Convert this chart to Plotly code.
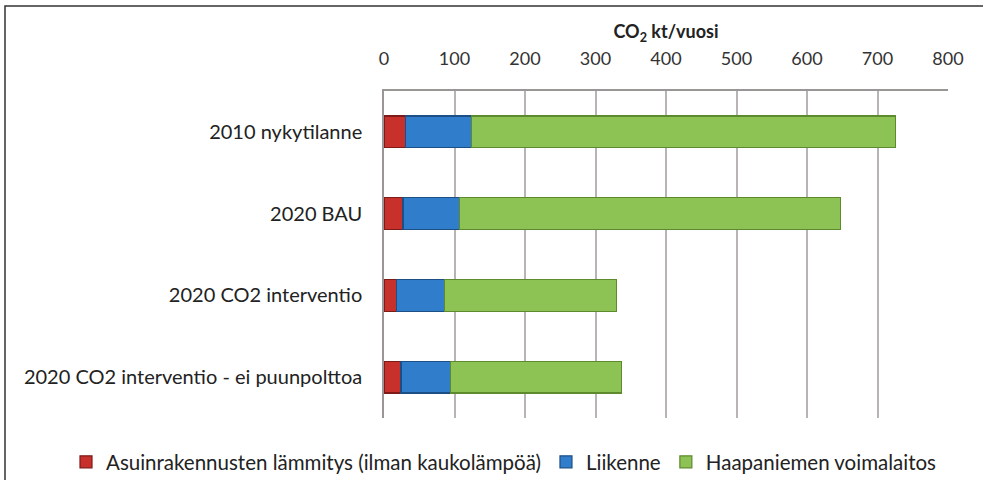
import plotly.graph_objects as go

FONT = "Lato"

scenarios = [
    "2010 nykytilanne",
    "2020 BAU",
    "2020 CO2 interventio",
    "2020 CO2 interventio - ei puunpolttoa",
]
asuin = [30, 27, 18, 24]
liikenne = [94, 80, 68, 70]
voimalaitos = [601, 541, 244, 243]

x_ticks = [0, 100, 200, 300, 400, 500, 600, 700, 800]

series = [
    ("Asuinrakennusten lämmitys (ilman kaukolämpöä)", asuin, "#C8302C", "#7E1A18"),
    ("Liikenne", liikenne, "#2F7DCB", "#1C4F85"),
    ("Haapaniemen voimalaitos", voimalaitos, "#8DC255", "#5C8A2C"),
]

# plot area in pixels: x 384..948, y 91..418
PW, PH = 564, 327

fig = go.Figure()
for name, vals, col, edge in series:
    fig.add_trace(go.Bar(
        y=scenarios, x=vals, name=name, orientation="h",
        marker=dict(color=col, line=dict(color=edge, width=1.2)),
        width=0.39,
    ))

fig.update_layout(
    barmode="stack",
    width=983, height=480,
    margin=dict(l=384, r=35, t=91, b=62, autoexpand=False),
    paper_bgcolor="white", plot_bgcolor="white",
    font=dict(family=FONT, size=20, color="#222222"),
    showlegend=True,
    legend=dict(orientation="h",
                x=(66 - 384) / PW, xanchor="left",
                y=-(462 - 418) / PH, yanchor="middle",
                font=dict(size=20.5, family=FONT, color="#222222"),
                traceorder="normal", itemwidth=30, tracegroupgap=0),
    shapes=[dict(type="rect", xref="paper", yref="paper",
                 x0=(5 - 384) / PW, x1=(995 - 384) / PW,
                 y0=-(495 - 418) / PH, y1=1 + (91 - 6) / PH,
                 line=dict(color="#333333", width=1.5), layer="below")],
)
fig.update_xaxes(
    side="top", range=[0, 800], tickvals=x_ticks, automargin=False,
    showgrid=True, gridcolor="#B8B4B4", gridwidth=1.5,
    showline=True, linecolor="#9A9696", linewidth=1.5,
    tickfont=dict(size=18, family=FONT, color="#333333"),
    ticks="", ticklabelstandoff=17,
    title=dict(text="<b>CO<sub>2</sub> kt/vuosi</b>", font=dict(size=18, family=FONT, color="#222222"),
               standoff=4),
    zeroline=False,
)
fig.update_yaxes(
    autorange="reversed", automargin=False,
    showline=True, linecolor="#9A9696", linewidth=1.5,
    tickfont=dict(size=20, family=FONT, color="#222222"),
    ticks="", ticklabelstandoff=16,
    showgrid=False,
)

fig.write_html("out.html", config={"displayModeBar": False},
               post_script="document.body.style.margin='0';")
